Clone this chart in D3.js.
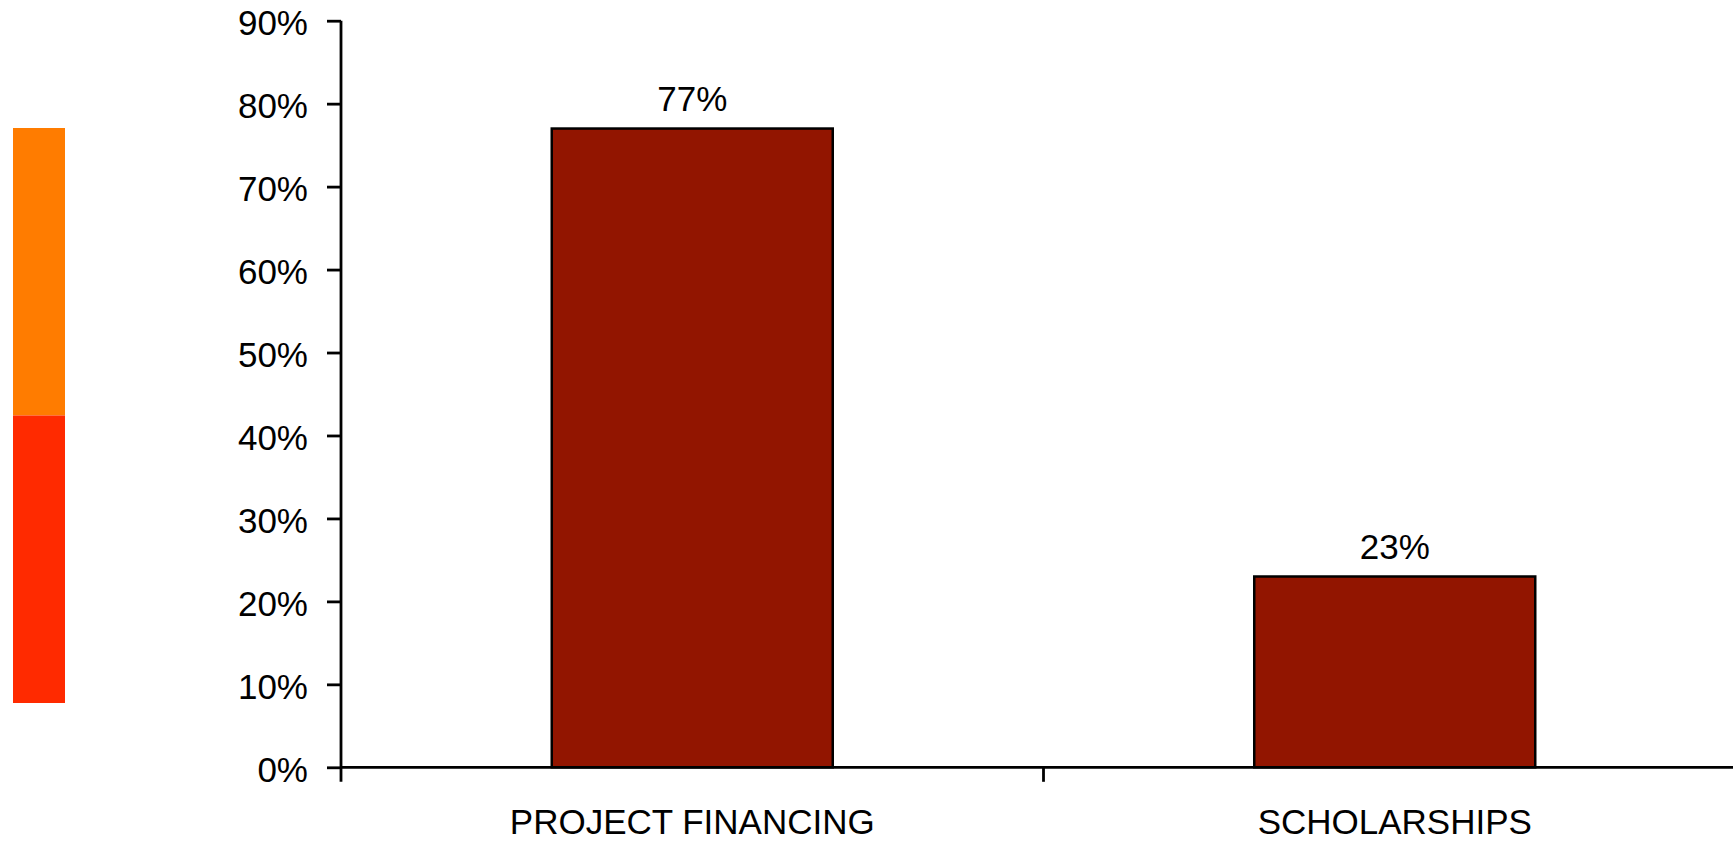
<!DOCTYPE html>
<html>
<head>
<meta charset="utf-8">
<script src="https://cdn.jsdelivr.net/npm/d3@7"></script>
<style>
  html, body { margin: 0; padding: 0; background: #fff; }
  svg { display: block; }
  text { font-family: "Liberation Sans", Arial, sans-serif; fill: #000; }
</style>
</head>
<body>
<svg id="chart" width="1733" height="842"></svg>
<script>
const categories = ["PROJECT FINANCING", "SCHOLARSHIPS"];
const values = [0.77, 0.23];
const valueLabels = ["77%", "23%"];
const yTicks = [0, 0.1, 0.2, 0.3, 0.4, 0.5, 0.6, 0.7, 0.8, 0.9];
const legendKeys = ["a", "b"];
const legendColors = ["#FF7C00", "#FF2A00"];

(function () {
const svg = d3.select("#chart");
const W = 1733;
const mLeft = 341, mBottom = 767.3, mTop = 20.7, mRight = 1746;

const x = d3.scaleBand().domain(categories).range([mLeft, mRight])
  .paddingInner(0.6).paddingOuter(0.3);
const xb = d3.scaleBand().domain(categories).range([mLeft, mRight]).padding(0);
const y = d3.scaleLinear().domain([0, 0.9]).range([mBottom, mTop]);

// legend swatches
const ly = d3.scaleBand().domain(legendKeys).range([128, 703]);
svg.append("g").selectAll("rect").data(legendKeys).join("rect")
  .attr("x", 13).attr("width", 52)
  .attr("y", d => ly(d)).attr("height", ly.bandwidth())
  .attr("fill", (d, i) => legendColors[i]);

// bars
svg.append("g").selectAll("rect").data(categories).join("rect")
  .attr("x", d => x(d))
  .attr("width", x.bandwidth())
  .attr("y", (d, i) => y(values[i]))
  .attr("height", (d, i) => y(0) - y(values[i]))
  .attr("fill", "#921500")
  .attr("stroke", "#000")
  .attr("stroke-width", 2.5);

// value labels
svg.append("g").selectAll("text").data(categories).join("text")
  .attr("x", d => x(d) + x.bandwidth() / 2)
  .attr("y", (d, i) => y(values[i]) - 18)
  .attr("text-anchor", "middle")
  .attr("font-size", 35)
  .text((d, i) => valueLabels[i]);

// y axis
const yAxis = d3.axisLeft(y).tickValues(yTicks).tickFormat(d3.format(".0%"))
  .tickSize(14).tickPadding(19);
const gy = svg.append("g").attr("transform", `translate(${mLeft},0)`).call(yAxis);
gy.select(".domain").attr("stroke", "#000").attr("stroke-width", 2.8)
  .attr("d", `M0,${mTop}V${mBottom + 14.5}`);
gy.selectAll(".tick line").attr("stroke", "#000").attr("stroke-width", 2.8);
gy.selectAll(".tick text").attr("font-size", 35).attr("font-family", "Liberation Sans, Arial, sans-serif")
  .attr("fill", "#000").attr("dy", "0.4em");

// x axis
const gx = svg.append("g").attr("transform", `translate(0,${mBottom})`);
gx.append("line").attr("x1", mLeft).attr("x2", W).attr("y1", 0).attr("y2", 0)
  .attr("stroke", "#000").attr("stroke-width", 2.8);
gx.selectAll("line.sep").data(categories.slice(1)).join("line")
  .attr("class", "sep")
  .attr("x1", d => xb(d)).attr("x2", d => xb(d))
  .attr("y1", 0).attr("y2", 14.5)
  .attr("stroke", "#000").attr("stroke-width", 2.8);
gx.selectAll("text").data(categories).join("text")
  .attr("x", d => xb(d) + xb.bandwidth() / 2)
  .attr("y", 67.2)
  .attr("text-anchor", "middle")
  .attr("font-size", 35)
  .text(d => d);
})();
</script>
</body>
</html>
